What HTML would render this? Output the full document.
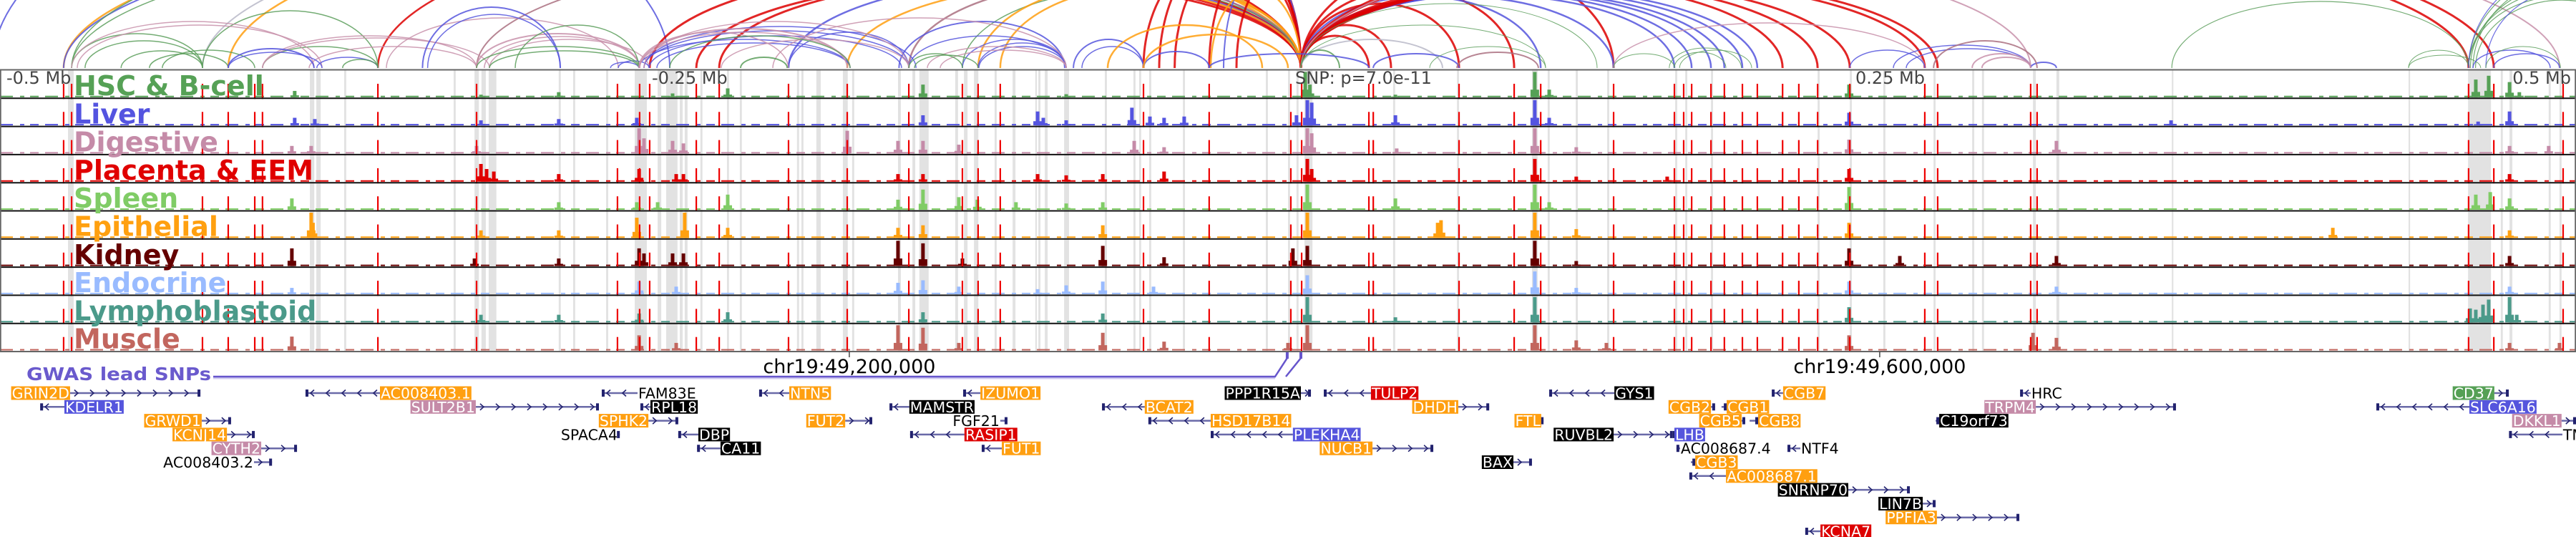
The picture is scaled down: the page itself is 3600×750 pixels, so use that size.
<!DOCTYPE html>
<html><head><meta charset="utf-8"><style>
html,body{margin:0;padding:0;background:#fff;}
svg{display:block;font-family:"DejaVu Sans","Liberation Sans",sans-serif;}
</style></head><body>
<svg id="chart" width="3600" height="750" viewBox="0 0 3600 750" xmlns="http://www.w3.org/2000/svg">
<defs><clipPath id="arcclip"><rect x="0" y="0" width="3600" height="96"/></clipPath></defs>
</svg>
<script>
// ---------- data (kb from window start; window = 1000 kb) ----------
const trackNames = ["HSC & B-cell","Liver","Digestive","Placenta & EEM","Spleen","Epithelial","Kidney","Endocrine","Lymphoblastoid","Muscle"];
const trackColors = ["#56a156","#5454e0","#c58ba8","#e00000","#80cc66","#ffa010","#650000","#99bbff","#4b9a8a","#c2665e"];
const redLines = [24.7,27.8,78.6,88.6,98.9,101.9,146.7,185,239.7,248.3,252.2,270.3,279.2,306.1,328.9,352.8,373.6,379.7,388.3,443.9,469.4,501.1,505.3,531.4,533.1,566.4,587.8,598.1,626.4,650,653.6,656.7,664.2,669.4,676.4,682.2,692,698.3,705.6,718.1,747.2,752.2,788.3,790.8,958.3,968.1,995];
const grayBands = [[26.4,2.2],[120.3,1.7],[122.8,1.7],[133.6,0.8],[176.1,0.8],[184.2,1.7],[186.9,1.7],[189.7,3],[216.9,0.8],[222.5,0.8],[235.3,0.8],[246.4,4.7],[255.3,1.4],[258.6,4.4],[263.9,1.1],[265.8,1.1],[271.9,0.8],[282.2,0.8],[287.2,0.8],[309.4,0.8],[311.1,0.8],[316.9,1.7],[327.2,1.9],[330.8,0.8],[348.6,1.1],[354.2,1.1],[356.9,3.6],[370.8,1.1],[374.2,1.4],[378.1,1.7],[386.1,0.8],[393.1,1.1],[401.9,0.6],[403.1,0.8],[405.6,1.1],[413.1,1.9],[428.9,0.8],[440,0.8],[442.2,0.8],[446.1,0.8],[459.2,0.8],[491.4,0.8],[500,0.8],[503.3,0.8],[506.4,3.1],[540.8,0.8],[565.6,0.8],[594.7,2.2],[600.8,0.8],[611.7,0.8],[623.9,0.8],[650.3,0.8],[654.2,0.8],[664.2,0.8],[705.6,0.8],[718.1,0.8],[731.1,0.8],[750.6,0.8],[765.6,0.8],[769.4,0.8],[789.2,1.1],[798.3,1.1],[843.1,0.6],[935,0.6],[958.1,8.9],[970.8,0.8],[974.2,1.1],[989.4,0.8],[993.6,0.8]];
const peaksHSC = [[114.4,.25],[186.7,.1],[216.9,.2],[261.1,.15],[282.5,.35],[358.3,.5],[413.9,.12],[506.7,1],[508.5,.5],[541.7,.1],[595.8,1],[601.4,.3],[717.8,.5],[961.1,.7],[966.1,.85],[974.2,.6],[978,.2]];
const peaksLiver = [[114.4,.3],[122.2,.25],[186.7,.2],[216.9,.25],[247.2,.3],[358.3,.4],[402.8,.55],[405,.3],[413.9,.2],[439.4,.7],[446.4,.35],[451.9,.3],[459.7,.35],[503.3,.4],[507.5,1],[509.2,.9],[541.7,.4],[595.8,1],[601.4,.3],[717.8,.5],[842.8,.2],[962,.15],[974.2,.55]];
const peaksDigestive = [[113.3,.3],[120.8,.3],[185,.3],[248.1,1],[250,.6],[261.1,.5],[265.3,.4],[328.9,.9],[348.6,.5],[358.3,.5],[372.2,.35],[440.3,.5],[451.9,.25],[507.5,1],[509.2,.8],[542.2,.2],[595.8,1],[611.9,.25],[717.8,.55],[798.3,.5],[974.2,.3],[989.4,.3]];
const peaksPlacenta = [[186.7,.7],[188.9,.5],[191.7,.4],[216.9,.3],[248.1,.5],[262.5,.3],[265.3,.3],[348.6,.3],[358.3,.3],[402.8,.3],[413.9,.25],[428.1,.3],[451.9,.4],[507.5,.9],[509.2,.5],[595.8,.9],[611.9,.2],[647.2,.2],[717.8,.5],[974.2,.3]];
const peaksSpleen = [[113.3,.45],[216.9,.3],[247.2,.3],[255.3,.3],[282.5,.6],[348.6,.4],[358.3,.8],[372.2,.5],[379.4,.4],[394.4,.3],[413.9,.25],[428.1,.3],[507.5,1],[541.7,.45],[595.8,1],[601.4,.3],[717.8,.9],[961.1,.6],[966.7,.7],[974.2,.45]];
const peaksEpithelial = [[120.8,1],[121.5,.6],[186.7,.3],[216.9,.3],[247.2,.8],[265.8,1],[282.5,.4],[348.6,.4],[358.3,.5],[428.1,.5],[507.5,1],[558.1,.6],[559.4,.7],[595.8,1],[611.9,.35],[717.8,.6],[905.6,.4],[974.2,.3]];
const peaksKidney = [[113.3,.7],[184.2,.3],[216.9,.3],[248.1,.7],[250,.5],[261.1,.5],[265.3,.5],[348.6,1],[358.3,.9],[373.6,.3],[428.1,.8],[451.9,.35],[501.9,.7],[507.5,.8],[595.8,1],[611.9,.2],[717.8,.7],[737.5,.4],[798.3,.4],[974.2,.4]];
const peaksEndocrine = [[113.3,.25],[248.1,.5],[262.5,.3],[348.6,.45],[358.3,.55],[372.2,.3],[402.8,.2],[413.9,.35],[428.1,.5],[447.8,.3],[507.5,.75],[595.8,.9],[611.9,.25],[717.8,.5],[798.3,.3],[974.2,.3]];
const peaksLymph = [[186.7,.3],[216.9,.3],[248.1,.35],[282.5,.4],[358.3,.4],[428.1,.35],[507.5,1],[541.7,.2],[595.8,1],[717.8,.6],[958.9,.55],[961.1,.5],[963.9,.7],[966.1,.9],[974.2,1],[977,.3]];
const peaksMuscle = [[113.3,.55],[248.1,.6],[262.5,.3],[348.6,1],[358.3,.9],[372.2,.3],[428.1,.7],[451.9,.35],[500,.3],[507.5,1],[595.8,1],[611.9,.4],[623.6,.3],[717.8,.6],[789.2,.7],[798.3,.5],[974.2,.3],[993.6,.3]];
const trackPeaks = [peaksHSC,peaksLiver,peaksDigestive,peaksPlacenta,peaksSpleen,peaksEpithelial,peaksKidney,peaksEndocrine,peaksLymph,peaksMuscle];
// arcs: start kb, end kb, apex height, colour key, line width
const arcs = [
[-3,260,260,'B',2],[24.7,505,210,'O',2.5],[24.7,505,200,'B',2],[27.8,505,190,'G',1.5],[27.8,505,220,'G',1.5],[78.6,505,209,'K',2],[88.6,505,210,'O',2.5],[146.7,505,200,'R',2.5],[185,505,158,'M',2],
[252.2,505,141,'R',3],[270.3,505,122,'R',3],[279.2,505,125,'R',3],[306.1,505,124,'B',2.5],[328.9,505,116,'O',2.5],[352.8,505,120,'M',2.5],[373.6,505,110,'G',1.5],[379.7,505,120,'O',2.5],[388.3,505,115,'O',2.5],
[443.9,505,160,'R',3],[450,505,170,'R',3],[456,505,160,'R',3],[469.4,505,150,'R',3],[475,505,140,'B',2],[480,505,120,'R',3],[470,505,110,'O',2.5],
[505,531.4,45,'R',3],[505,540,60,'R',3],[505,566.4,90,'R',3],[505,587.8,110,'R',3],[505,626.4,150,'R',3],
[505,598.1,100,'B',2.5],[505,626.4,100,'B',2.5],[505,650,102,'B',2.5],[505,656.7,104,'B',2.5],[505,664.2,105,'B',2.5],[505,669.4,106,'B',2.5],[505,676.4,108,'B',2.5],[505,682.2,110,'B',2.5],
[505,692,120,'R',3],[505,705.6,120,'R',3],[505,718.1,122,'R',3],[505,747.2,125,'R',3],[505,752.2,128,'R',3],[505,788.3,153,'P',2],[505,958.3,192,'R',3],[505,968.1,200,'R',3],[505,993.6,200,'P',2],
[505,600,60,'G',1],[505,620,90,'G',1],[505,560,40,'K',2],[505,520,25,'G',2],
[27.8,78.6,48,'G',1.5],[33,78.6,38,'G',1.5],[47,78.6,24,'G',1.5],[58,88.6,20,'G',1.5],[63,98.9,25,'G',1.5],[78.6,146.7,80,'G',1.5],[101.9,146.7,30,'G',1.5],
[27.8,121.9,65,'P',1.5],[30,125,60,'P',1.5],[101.9,185,45,'P',1.5],[101.9,190,42,'P',1.5],[120,185,30,'P',1.5],[185,248.3,48,'P',2],[188,248.3,44,'P',1.5],[190,252,40,'P',1.5],[150,240,70,'P',1.5],
[88.6,121.9,27,'B',2],[88.6,125,22,'B',1.5],[123,146.7,15,'B',1.5],[164,217.5,85,'B',2],[166,217.5,75,'B',1.5],[237,248,8,'B',1.5],[240,252,10,'B',1.5],
[185,248.3,30,'G',1.5],[190,248,24,'G',1.5],[133,146.7,12,'G',1.5],[200,248,60,'G',1.5],
[250,355.6,58,'B',1.5],[250,352.8,52,'B',1.5],[252,350,45,'B',1.5],[248,330,40,'B',1.5],[255,330,35,'B',1.5],[306.1,352.8,50,'B',1.5],[349,413.3,65,'B',2],[352.8,413.9,45,'B',1.5],[373.6,413.9,40,'B',1.5],[379.7,413.9,35,'B',1.5],[380,413.9,30,'B',1.5],
[248.3,328.9,55,'P',2],[248.3,330,50,'P',1.5],[250,352.8,65,'P',1.5],[280,352.8,40,'P',1.5],[360,413.9,30,'P',1.5],[365,413.9,25,'P',1.5],[300,413.9,70,'P',1.5],[248,306,50,'P',1.5],
[287.5,305.6,15,'G',2],[352.8,373.6,20,'G',1.5],[355,379.7,18,'G',1.5],[260,330,45,'G',1.5],
[416.7,443.9,40,'B',2],[443.9,469.4,23,'B',2],[469.4,531.4,20,'B',2],[533.1,566.4,20,'B',2],[420,443.9,30,'B',1.5],
[443.9,500,47,'O',2.5],[430,490,60,'O',2.5],[565.6,597.2,22,'M',2],[626.4,747.2,63,'P',1.5],
[626.4,650,20,'G',1],[650,670,22,'G',1],[648,676,28,'G',1],[652,680,25,'G',1],[555,600,30,'G',1],[718.1,747.2,25,'B',1.5],
[735,788.3,32,'B',1.5],[740,788.3,27,'B',1.5],[788.3,798.3,8,'B',2],[750.6,790.8,38,'M',2],[765.6,788.3,20,'P',2],[769.4,788.3,15,'P',2],
[843.1,958.3,93,'G',1.2],[935,958.3,25,'G',1],[935,963,18,'G',1],
[958.3,1030,100,'G',1.2],[958.3,1035,110,'G',1.2],[959,1040,120,'G',1.2],[960,1045,130,'G',1.2],[958.3,1050,140,'G',1.2],[961,1028,95,'G',1.2],
[958.3,1040,140,'B',1.2],[965,1030,110,'B',1.2],[960,990,25,'B',1.5],[968,993.6,20,'B',1.5],[965,994,30,'G',1]
];
const arcColors = {G:'#5a9e5a',B:'#5555dd',P:'#c890aa',R:'#dd0000',O:'#ff9f10',K:'#b8b8c8',M:'#aa7080'};
// genes: name, row, line start kb, line end kb, strand, label colour ('' = plain text), label side
const genes = [
["GRIN2D",0,27.2,77.8,'+','#ff9f10','L'],["AC008403.1",0,118.6,147.5,'-','#ff9f10','R'],["FAM83E",0,233.6,247.5,'-','','R'],["NTN5",0,294.7,306.4,'-','#ff9f10','R'],["IZUMO1",0,373.9,380.6,'-','#ff9f10','R'],["PPP1R15A",0,505,508.9,'+','#000','L'],["TULP2",0,513.9,532.2,'-','#dd0000','R'],["GYS1",0,601.4,626.7,'-','#000','R'],["CGB7",0,687.8,692.2,'-','#ff9f10','R'],["HRC",0,784.2,788.3,'-','','R'],["CD37",0,968.3,973.9,'+','#55a055','L'],
["KDELR1",1,15.6,25,'-','#5555dd','R'],["SULT2B1",1,184.7,232.5,'+','#c58ba8','L'],["RPL18",1,248.6,252.5,'-','#000','R'],["MAMSTR",1,345.3,353,'-','#000','R'],["BCAT2",1,427.8,444.4,'-','#ff9f10','R'],["DHDH",1,566.1,578.1,'+','#ff9f10','L'],["CGB2",1,664.2,665.8,'+','#ff9f10','L'],["CGB1",1,668.3,670.3,'+','#ff9f10','R'],["TRPM4",1,790.3,844.7,'+','#c58ba8','L'],["SLC6A16",1,922.5,958.6,'-','#5555dd','R'],
["GRWD1",2,78.3,89.7,'+','#ff9f10','L'],["SPHK2",2,251.7,263.3,'+','#ff9f10','L'],["FUT2",2,328.1,338.6,'+','#ff9f10','L'],["FGF21",2,388.3,391.1,'+','','L'],["HSD17B14",2,445.8,470,'-','#ff9f10','R'],["FTL",2,598.3,599.2,'+','#ff9f10','L'],["CGB5",2,676.1,677.5,'+','#ff9f10','L'],["CGB8",2,679.2,682.5,'+','#ff9f10','R'],["C19orf73",2,751.4,752.8,'+','#000','R'],["DKKL1",2,994.4,1000,'+','#c58ba8','L'],
["KCNJ14",3,88.1,98.9,'+','#ff9f10','L'],["SPACA4",3,240,240.6,'+','','L'],["DBP",3,263.3,271.1,'-','#000','R'],["RASIP1",3,353.3,374.4,'-','#dd0000','R'],["PLEKHA4",3,470,501.9,'-','#5555dd','R'],["RUVBL2",3,626.4,649.4,'+','#000','L'],["LHB",3,649.4,650,'-','#5555dd','R'],["TMEM143",3,974,994.7,'-','','R'],
["CYTH2",4,101.4,115.3,'+','#c58ba8','L'],["CA11",4,270.6,279.7,'-','#000','R'],["FUT1",4,381.1,388.9,'-','#ff9f10','R'],["NUCB1",4,532.8,556.4,'+','#ff9f10','L'],["AC008687.4",4,650.8,652.2,'-','','R'],["NTF4",4,693.9,698.9,'-','','R'],
["AC008403.2",5,98.6,105.6,'+','','L'],["BAX",5,587.5,594.7,'+','#000','L'],["CGB3",5,656.4,658.1,'+','#ff9f10','R'],
["AC008687.1",6,655.8,670,'-','#ff9f10','R'],["SNRNP70",7,717.5,741.4,'+','#000','L'],["LIN7B",8,746.4,751.4,'+','#000','L'],["PPFIA3",9,751.9,783.9,'+','#ff9f10','L'],["KCNA7",10,700.8,706.7,'-','#dd0000','R']
];
const gwasSnps = [499.7,505];
const axisTickLabels = ["-0.5 Mb","-0.25 Mb","SNP: p=7.0e-11","0.25 Mb","0.5 Mb"];
const chrTicks = [329.7,729.7];
const chrTickLabels = ["chr19:49,200,000","chr19:49,600,000"];

// ---------- helpers ----------
const NS="http://www.w3.org/2000/svg";
const svg=document.getElementById('chart');
function X(kb){return kb*3.6;}
const TOP=98, TH=39.3, NT=10, BOTTOM=TOP+TH*NT;
function el(tag,attrs,parent){const e=document.createElementNS(NS,tag);for(const k in attrs)e.setAttribute(k,attrs[k]);(parent||svg).appendChild(e);return e;}

// ---------- arcs ----------
const gArcs=el('g',{'clip-path':'url(#arcclip)'});


arcs.forEach(a=>{
  const x1=X(a[0]),x2=X(a[1]),rx=(x2-x1)/2,ry=a[2],fy=95;
  const p=el('path',{d:`M${x1},${fy} A${rx},${ry} 0 0 1 ${x2},${fy}`,fill:'none',stroke:arcColors[a[3]],'stroke-width':a[4],'stroke-opacity':0.85},gArcs);
  
  
});

// ---------- panel ----------
const gPanel=el('g',{});


grayBands.forEach(b=>{
  const r=el('rect',{x:X(b[0]),y:TOP,width:Math.max(2,X(b[1])),height:BOTTOM-TOP,fill:'#e2e2e2'},gPanel);
  
  
});
for(let t=0;t<NT;t++){
  const top=TOP+t*TH, base=top+TH-1.5, col=trackColors[t];
  const g=el('g',{},gPanel);
  
  
  el('line',{x1:0,x2:3600,y1:base-1,y2:base-1,stroke:col,'stroke-width':2,'stroke-dasharray':'18 10 6 8 12 9'},g);
  trackPeaks[t].forEach(p=>{
    const x=X(p[0]),h=p[1]*(TH-4);
    const s=el('rect',{x:x-6,y:base-h*0.3,width:12,height:h*0.3,fill:col},g);
    
    
    const m=el('rect',{x:x-2.5,y:base-h,width:5,height:h,fill:col},g);
    
    
  });
  redLines.forEach(k=>{
    const l=el('line',{x1:X(k),x2:X(k),y1:top+19,y2:top+TH+1,stroke:'#ee0000','stroke-width':2.2},g);
    
    
  });
}
for(let t=1;t<NT;t++){
  const y=TOP+t*TH;
  const l=el('line',{x1:0,x2:3600,y1:y,y2:y,stroke:'#111','stroke-width':2},gPanel);
  
  
}
const border=el('rect',{x:0.75,y:TOP-0.5,width:3598.5,height:BOTTOM-TOP+0.5,fill:'none',stroke:'#666','stroke-width':2});


for(let t=0;t<NT;t++){
  const tx=el('text',{x:103,y:TOP+t*TH+35,'font-size':38,'font-weight':'bold',fill:trackColors[t]});
  tx.textContent=trackNames[t];
  
  
}
// axis labels
const axPos=[[9,'start'],[911,'start'],[1810,'start'],[2690,'end'],[3593,'end']];
axisTickLabels.forEach((s,i)=>{
  const tx=el('text',{x:axPos[i][0],y:117,'font-size':24,fill:'#444','text-anchor':axPos[i][1]});
  tx.textContent=s;
  
  
});
// chr ticks
chrTicks.forEach((k,i)=>{
  const l=el('line',{x1:X(k),x2:X(k),y1:BOTTOM,y2:BOTTOM+8,stroke:'#444','stroke-width':1.5});
  
  
  const tx=el('text',{x:X(k),y:521,'font-size':27,fill:'#000','text-anchor':'middle'});
  tx.textContent=chrTickLabels[i];
  
  
});
// GWAS
const gw=el('text',{x:37,y:531,'font-size':25,'font-weight':'bold',fill:'#6a5acd',textLength:258,lengthAdjust:'spacingAndGlyphs'});
gw.textContent='GWAS lead SNPs';


const gline=el('path',{d:`M298,528 L${X(gwasSnps[0])-17},528`,stroke:'#cfcaf0','stroke-width':3,fill:'none'});


const gl=el('path',{d:`M298,526 L${X(gwasSnps[0])-17},526 L${X(gwasSnps[0])},500 M${X(gwasSnps[1])-21},526 L${X(gwasSnps[1])},500`,stroke:'#6655cc','stroke-width':2.5,fill:'none'});


gwasSnps.forEach(k=>{
  const r=el('rect',{x:X(k)-2,y:492,width:4,height:9,fill:'#6655cc'});
  
  
});
// genes
const gGenes=el('g',{});


genes.forEach(g=>{
  const [name,row,s,e,strand,col,side]=g;
  const cy=549+row*19.3, x1=X(s), x2=X(e);
  const grp=el('g',{},gGenes);
  
  
  el('line',{x1:x1,x2:x2,y1:cy,y2:cy,stroke:'#6a6aa8','stroke-width':2.5},grp);
  for(let x=x1+9;x<x2-3;x+=22){
    const d=strand=='+'?`M${x-3},${cy-4.5} L${x+2},${cy} L${x-3},${cy+4.5}`:`M${x+3},${cy-4.5} L${x-2},${cy} L${x+3},${cy+4.5}`;
    el('path',{d:d,fill:'none',stroke:'#22226e','stroke-width':1.6},grp);
  }
  el('rect',{x:(strand=='+'?x2-4:x1),y:cy-5,width:4,height:10,fill:'#22226e'},grp);
  const tx=el('text',{y:cy+7.5,'font-size':20.5,fill:col?'#fff':'#000'},grp);
  tx.textContent=name;
  const w=tx.getComputedTextLength()+2;
  const lx=side=='L'?x1-w:x2;
  tx.setAttribute('x',lx+1);
  if(col){const r=el('rect',{x:lx,y:cy-9.5,width:w,height:19,fill:col});grp.insertBefore(r,tx);}
});
</script>
</body></html>
